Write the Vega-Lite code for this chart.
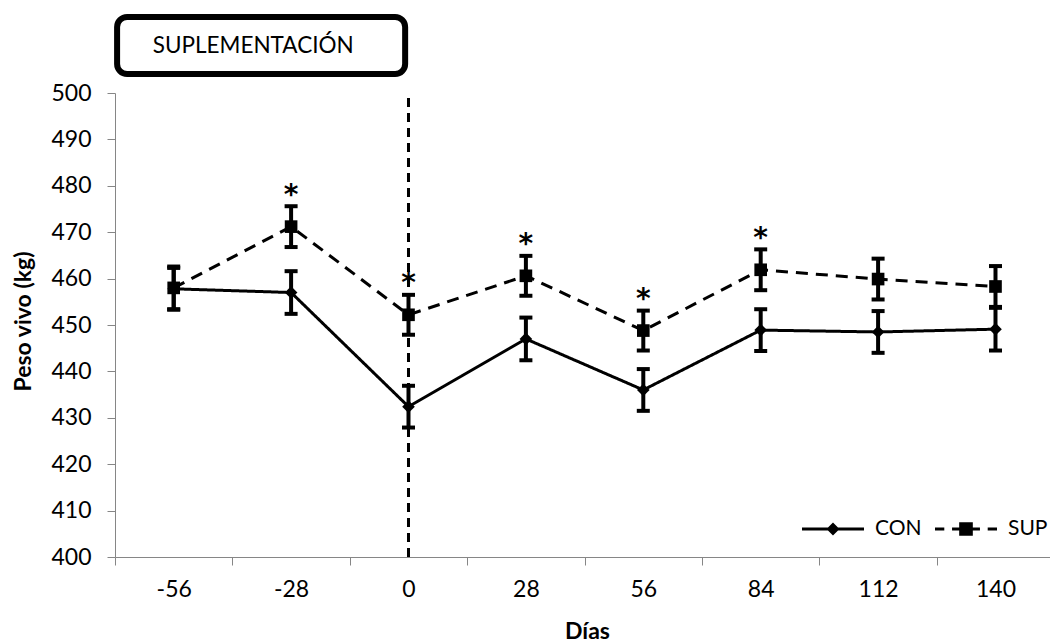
{
  "$schema": "https://vega.github.io/schema/vega-lite/v6.json",
  "width": 935,
  "height": 464,
  "autosize": {"type": "none"},
  "padding": {"left": 115, "top": 93, "right": 0, "bottom": 86},
  "background": "white",
  "config": {
    "view": {"stroke": null},
    "font": "Lato",
    "axis": {
      "grid": false,
      "domainColor": "#868686",
      "tickColor": "#868686",
      "labelFont": "Lato",
      "labelFontSize": 23,
      "labelColor": "black",
      "titleFont": "Lato",
      "titleFontSize": 23,
      "titleFontWeight": "bold",
      "titleColor": "black"
    }
  },
  "data": {
    "values": [
      {"dia": -56, "serie": "CON", "peso": 457.8, "ee": 4.5, "sig": ""},
      {"dia": -28, "serie": "CON", "peso": 457.0, "ee": 4.6, "sig": ""},
      {"dia": 0, "serie": "CON", "peso": 432.4, "ee": 4.5, "sig": ""},
      {"dia": 28, "serie": "CON", "peso": 447.0, "ee": 4.6, "sig": ""},
      {"dia": 56, "serie": "CON", "peso": 436.0, "ee": 4.5, "sig": ""},
      {"dia": 84, "serie": "CON", "peso": 448.9, "ee": 4.5, "sig": ""},
      {"dia": 112, "serie": "CON", "peso": 448.5, "ee": 4.5, "sig": ""},
      {"dia": 140, "serie": "CON", "peso": 449.1, "ee": 4.6, "sig": ""},
      {"dia": -56, "serie": "SUP", "peso": 458.0, "ee": 4.6, "sig": ""},
      {"dia": -28, "serie": "SUP", "peso": 471.2, "ee": 4.4, "sig": "*"},
      {"dia": 0, "serie": "SUP", "peso": 452.2, "ee": 4.3, "sig": "*"},
      {"dia": 28, "serie": "SUP", "peso": 460.6, "ee": 4.3, "sig": "*"},
      {"dia": 56, "serie": "SUP", "peso": 448.8, "ee": 4.3, "sig": "*"},
      {"dia": 84, "serie": "SUP", "peso": 461.9, "ee": 4.4, "sig": "*"},
      {"dia": 112, "serie": "SUP", "peso": 459.9, "ee": 4.4, "sig": ""},
      {"dia": 140, "serie": "SUP", "peso": 458.3, "ee": 4.4, "sig": ""}
    ]
  },
  "layer": [
    {
      "mark": {"type": "line", "color": "black", "strokeWidth": 3},
      "encoding": {
        "x": {
          "field": "dia", "type": "quantitative", "title": "Días",
          "scale": {"domain": [-70, 153], "nice": false, "zero": false},
          "axis": {
            "values": [-70, -56, -42, -28, -14, 0, 14, 28, 42, 56, 70, 84, 98, 112, 126, 140],
            "labelExpr": "(datum.value + 56) % 28 == 0 ? toString(datum.value) : ''",
            "tickOpacity": {"condition": {"test": "(datum.value + 70) % 28 == 0", "value": 1}, "value": 0},
            "tickSize": 8,
            "labelPadding": 13,
            "labelFlush": false,
            "labelOverlap": false,
            "labelBound": false,
            "titleBaseline": "middle",
            "titleX": 472,
            "titleY": 74
          }
        },
        "y": {
          "field": "peso", "type": "quantitative", "title": "Peso vivo (kg)",
          "scale": {"domain": [400, 500], "nice": false, "zero": false},
          "axis": {
            "values": [400, 410, 420, 430, 440, 450, 460, 470, 480, 490, 500],
            "tickSize": 8,
            "labelPadding": 16,
            "titleX": -92,
            "titleY": 228,
            "titleBaseline": "middle",
            "titleAngle": -90
          }
        },
        "strokeDash": {
          "field": "serie", "type": "nominal",
          "scale": {"domain": ["CON", "SUP"], "range": [[1, 0], [12, 8]]},
          "legend": null
        }
      }
    },
    {
      "mark": {
        "type": "errorbar",
        "color": "black",
        "opacity": 1,
        "ticks": {"size": 13, "thickness": 4, "color": "black", "opacity": 1},
        "rule": {"strokeWidth": 4, "color": "black", "opacity": 1}
      },
      "encoding": {
        "x": {"field": "dia", "type": "quantitative", "title": "Días"},
        "y": {"field": "peso", "type": "quantitative", "title": "Peso vivo (kg)"},
        "yError": {"field": "ee"},
        "detail": {"field": "serie", "type": "nominal"}
      }
    },
    {
      "mark": {"type": "point", "filled": true, "color": "black", "opacity": 1, "size": 160},
      "encoding": {
        "x": {"field": "dia", "type": "quantitative", "title": "Días"},
        "y": {"field": "peso", "type": "quantitative", "title": "Peso vivo (kg)"},
        "shape": {
          "field": "serie", "type": "nominal",
          "scale": {"domain": ["CON", "SUP"], "range": ["diamond", "square"]},
          "legend": null
        }
      }
    },
    {
      "transform": [{"filter": "datum.sig == '*'"}],
      "mark": {"type": "text", "fontSize": 28, "fontWeight": "bold", "baseline": "alphabetic", "dy": -23, "color": "black", "font": "DejaVu Sans"},
      "encoding": {
        "x": {"field": "dia", "type": "quantitative", "title": "Días"},
        "y": {"field": "peso", "type": "quantitative", "title": "Peso vivo (kg)"},
        "text": {"field": "sig"}
      }
    },
    {
      "data": {"values": [{"evento": "inicio suplementación"}]},
      "mark": {"type": "rule", "color": "black", "strokeWidth": 3, "strokeDash": [9, 6]},
      "encoding": {
        "x": {"datum": 0},
        "y": {"datum": 400},
        "y2": {"datum": 500}
      }
    },
    {
      "data": {"values": [{"texto": "SUPLEMENTACIÓN"}]},
      "layer": [
        {
          "mark": {"type": "rect", "fill": "white", "stroke": "black", "strokeWidth": 6, "cornerRadius": 10},
          "encoding": {
            "x": {"datum": -69.5},
            "x2": {"datum": -0.8},
            "y": {"datum": 504.1},
            "y2": {"datum": 516.4}
          }
        },
        {
          "mark": {"type": "text", "align": "left", "baseline": "middle", "fontSize": 22.5, "font": "Lato", "color": "black"},
          "encoding": {
            "x": {"datum": -61},
            "y": {"datum": 510.2},
            "text": {"field": "texto"}
          }
        }
      ]
    },
    {
      "transform": [{"filter": "false"}],
      "mark": {"type": "point", "filled": true, "color": "black", "opacity": 1},
      "encoding": {
        "x": {"field": "dia", "type": "quantitative", "title": "Días"},
        "y": {"field": "peso", "type": "quantitative", "title": "Peso vivo (kg)"},
        "shape": {
          "field": "serie", "type": "nominal",
          "scale": {
            "domain": ["CON", "SUP"],
            "range": [
              "M-1,-0.05H1V0.05H-1ZM0,-0.21L0.21,0L0,0.21L-0.21,0Z",
              "M-1,-0.05H-0.7V0.05H-1ZM-0.45,-0.05H0.45V0.05H-0.45ZM0.7,-0.05H1V0.05H0.7ZM-0.22,-0.22H0.22V0.22H-0.22Z"
            ]
          },
          "legend": {
            "title": null,
            "orient": "none",
            "legendX": 686,
            "legendY": 404,
            "direction": "horizontal",
            "symbolSize": 3844,
            "symbolFillColor": "black",
            "symbolOpacity": 1,
            "labelFont": "Lato",
            "labelFontSize": 21,
            "labelColor": "black",
            "labelOffset": 10,
            "columnPadding": 10
          }
        }
      }
    }
  ],
  "resolve": {"scale": {"shape": "independent"}}
}
